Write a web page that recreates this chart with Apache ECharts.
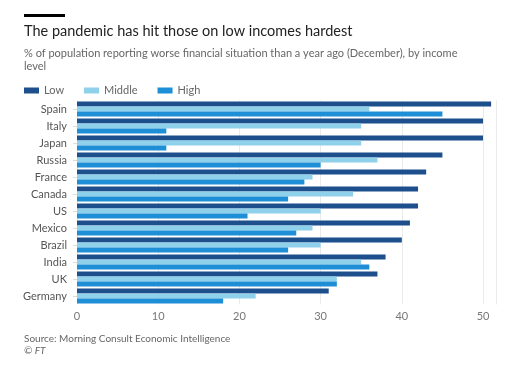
<!DOCTYPE html>
<html><head><meta charset="utf-8">
<script src="https://cdn.jsdelivr.net/npm/echarts@6/dist/echarts.min.js"></script>
<style>html,body{margin:0;padding:0;background:#fff}#c{width:510px;height:374px}</style>
</head><body><div id="c"></div>
<script>
const categories = ["Spain","Italy","Japan","Russia","France","Canada","US","Mexico","Brazil","India","UK","Germany"];
const lowValues    = [51,50,50,45,43,42,42,41,40,38,37,31];
const middleValues = [36,35,35,37,29,34,30,29,30,35,32,22];
const highValues   = [45,11,11,30,28,26,21,27,26,36,32,18];
const xTicks = [0,10,20,30,40,50];

const font = "Lato, 'Open Sans', sans-serif";
const chart = echarts.init(document.getElementById('c'), null, {renderer:'canvas'});
chart.setOption({
  backgroundColor:'#fff',
  animation:false,
  textStyle:{fontFamily:font},
  graphic:[
    {type:'rect', left:24, top:14, shape:{width:41, height:3}, style:{fill:'#000'}},
    {type:'text', left:24, top:24, style:{text:'The pandemic has hit those on low incomes hardest', fontFamily:font, fontSize:14.5, fill:'#222'}},
    {type:'text', left:24, top:47, style:{text:'% of population reporting worse financial situation than a year ago (December), by income\nlevel', fontFamily:font, fontSize:11, lineHeight:13, fill:'#666'}},
    {type:'text', left:24, top:334, style:{text:'Source: Morning Consult Economic Intelligence', fontFamily:font, fontSize:10, fill:'#666'}},
    {type:'text', left:24, top:346, style:{text:'© FT', fontFamily:font, fontSize:10, fontStyle:'italic', fill:'#666'}}
  ],
  legend:{
    left:19, top:80, itemWidth:15, itemHeight:6, itemGap:20, icon:'rect',
    textStyle:{fontFamily:font, fontSize:11, color:'#666'},
    data:['Low','Middle','High']
  },
  grid:{left:77, right:14, top:100.5, bottom:69.5, containLabel:false},
  xAxis:{
    type:'value', min:0, max:51.6, interval:10,
    axisLabel:{fontFamily:font, fontSize:11, color:'#777', margin:6,
      formatter:v => xTicks.includes(v) ? String(v) : ''},
    splitLine:{show:true, lineStyle:{color:'#eaeaea'}},
    axisLine:{show:false}, axisTick:{show:false}
  },
  yAxis:{
    type:'category', data:categories, inverse:true,
    axisLabel:{fontFamily:font, fontSize:11, color:'#555', margin:10},
    axisTick:{show:true, length:4, lineStyle:{color:'#ddd'}, alignWithLabel:true},
    axisLine:{show:false}
  },
  series:[
    {name:'Low', type:'bar', data:lowValues, itemStyle:{color:'#1d4f8c'}, barGap:'0%', barCategoryGap:'12%'},
    {name:'Middle', type:'bar', data:middleValues, itemStyle:{color:'#8fd0ea'}},
    {name:'High', type:'bar', data:highValues, itemStyle:{color:'#1e8fd6'}}
  ]
});
</script></body></html>
